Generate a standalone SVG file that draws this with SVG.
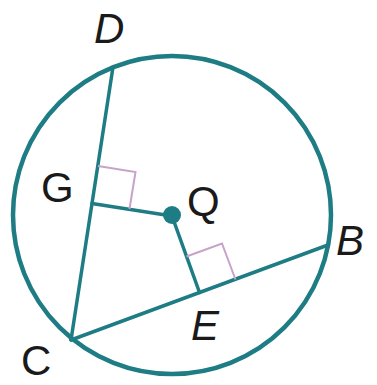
<svg xmlns="http://www.w3.org/2000/svg" width="377" height="385" viewBox="0 0 377 385">
<style>
.ln{stroke:#1e7c84;stroke-width:3.5;fill:none;stroke-linecap:round;stroke-linejoin:round}
.circ{stroke:#1e7c84;stroke-width:4.5;fill:none}
.ra{stroke:#c8a2c8;stroke-width:2;fill:none}
.lbl{font-family:"Liberation Sans",Arial,sans-serif;font-size:42px;fill:#1a1a1a}
.it{font-style:italic}
</style>
<rect width="377" height="385" fill="#ffffff"/>
<g id="circle"><circle class="circ" cx="172" cy="215" r="159"/></g>
<g id="connectors">
<line class="ln" x1="113" y1="67" x2="71" y2="340"/>
<line class="ln" x1="71" y1="340" x2="328" y2="245"/>
<line class="ln" x1="92" y1="203.5" x2="172" y2="216"/>
<line class="ln" x1="172" y1="216" x2="199.5" y2="292.5"/>
<polyline class="ra" points="98,166 135.5,172 129.5,209"/>
<polyline class="ra" points="186.5,256.5 222,243.5 235.5,279.5"/>
</g>
<g id="Q"><circle cx="172" cy="215" r="9" fill="#1e7c84"/><text class="lbl" x="187" y="216">Q</text></g>
<g id="D"><text class="lbl it" x="94" y="43">D</text></g>
<g id="G"><text class="lbl" x="41" y="202">G</text></g>
<g id="B"><text class="lbl it" x="336" y="255">B</text></g>
<g id="E"><text class="lbl it" x="191" y="340">E</text></g>
<g id="C"><text class="lbl" x="21" y="375">C</text></g>
</svg>
